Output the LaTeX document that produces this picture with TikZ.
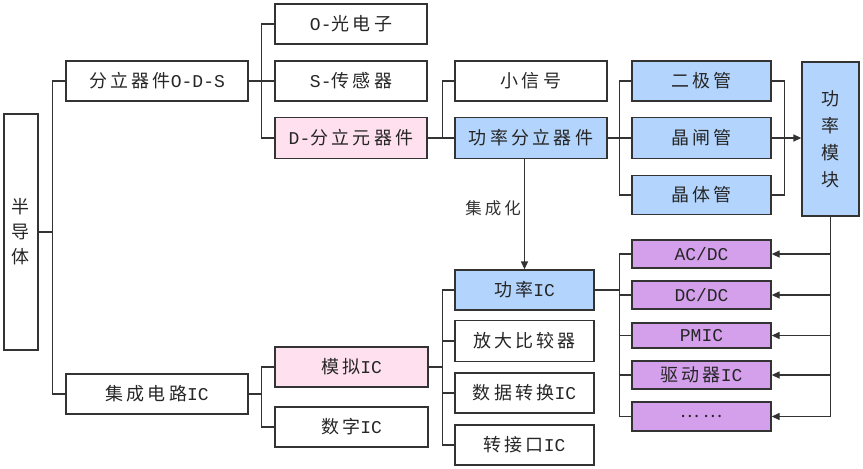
\documentclass[tikz,border=0pt]{standalone}
\usepackage{fontspec}
\setmainfont[LetterSpace=18]{Noto Sans CJK SC}
\newfontfamily\lat{Liberation Mono}
\usetikzlibrary{arrows.meta}
\definecolor{bluef}{HTML}{B3D4FC}
\definecolor{pinkf}{HTML}{FFE0EE}
\definecolor{purpf}{HTML}{D4A0EC}
\definecolor{linec}{HTML}{333333}
\tikzset{
  box/.style={draw=linec, line width=1.3pt, inner sep=0pt, font=\fontsize{18}{22}\selectfont, text=black!85},
  conn/.style={draw=linec, line width=1.3pt},
  arr/.style={conn, -{Triangle[length=8pt,width=7pt]}},
}
\begin{document}
\begin{tikzpicture}[x=1pt,y=-1pt]
\useasboundingbox[fill=white] (0,0) rectangle (863,469);
% level 0
\node[box, minimum width=34pt, minimum height=236pt, align=center, font=\fontsize{18}{25}\selectfont] (ban) at (21,232) {半\\导\\体};
% level 1
\node[box, minimum width=182pt, minimum height=40pt] (fl) at (157,81) {分立器件{\lat O-D-S}};
\node[box, minimum width=182pt, minimum height=40pt] (jc) at (157,394) {集成电路{\lat IC}};
% level 2
\node[box, minimum width=152pt, minimum height=40pt] (o) at (351,24) {{\lat O-}光电子};
\node[box, minimum width=152pt, minimum height=40pt] (s) at (351,81) {{\lat S-}传感器};
\node[box, fill=pinkf, minimum width=152pt, minimum height=41pt] (d) at (351,138) {{\lat D-}分立元器件};
\node[box, fill=pinkf, minimum width=153pt, minimum height=40pt] (mn) at (351.5,367) {模拟{\lat IC}};
\node[box, minimum width=153pt, minimum height=40pt] (sz) at (351.5,427) {数字{\lat IC}};
% level 3
\node[box, minimum width=152pt, minimum height=40pt] (xx) at (531,81) {小信号};
\node[box, fill=bluef, minimum width=152pt, minimum height=41pt] (gl) at (531,138) {功率分立器件};
\node[box, fill=bluef, minimum width=139pt, minimum height=40pt] (gic) at (524.5,290) {功率{\lat IC}};
\node[box, minimum width=139pt, minimum height=41pt] (fd) at (524.5,341) {放大比较器};
\node[box, minimum width=139pt, minimum height=40pt] (sj) at (524.5,393) {数据转换{\lat IC}};
\node[box, minimum width=139pt, minimum height=40pt] (zj) at (524.5,445) {转接口{\lat IC}};
% level 4
\node[box, fill=bluef, minimum width=139pt, minimum height=40pt] (ej) at (701.5,81) {二极管};
\node[box, fill=bluef, minimum width=139pt, minimum height=41pt] (jz) at (701.5,138) {晶闸管};
\node[box, fill=bluef, minimum width=139pt, minimum height=39pt] (jt) at (701.5,195) {晶体管};
\node[box, fill=purpf, minimum width=139pt, minimum height=28pt] (p1) at (701.5,254) {{\lat AC/DC}};
\node[box, fill=purpf, minimum width=139pt, minimum height=28pt] (p2) at (701.5,295) {{\lat DC/DC}};
\node[box, fill=purpf, minimum width=139pt, minimum height=25pt] (p3) at (701.5,335.5) {{\lat PMIC}};
\node[box, fill=purpf, minimum width=139pt, minimum height=28pt] (p4) at (701.5,375) {驱动器{\lat IC}};
\node[box, fill=purpf, minimum width=139pt, minimum height=29pt] (p5) at (701.5,416.5) {……};
% module
\node[box, fill=bluef, minimum width=57pt, minimum height=154pt, align=center, font=\fontsize{18}{27}\selectfont] (mk) at (830.5,139) {功\\率\\模\\块};
% connectors
\draw[conn] (ban.east) -- ++(14,0) |- (fl.west);
\draw[conn] (ban.east) -- ++(14,0) |- (jc.west);
\draw[conn] (fl.east) -- ++(13,0) |- (o.west);
\draw[conn] (fl.east) -- ++(13,0) |- (s.west);
\draw[conn] (fl.east) -- ++(13,0) |- (d.west);
\draw[conn] (jc.east) -- ++(13,0) |- (mn.west);
\draw[conn] (jc.east) -- ++(13,0) |- (sz.west);
\draw[conn] (d.east) -- ++(15,0) |- (xx.west);
\draw[conn] (d.east) -- (gl.west);
\draw[conn] (gl.east) -- ++(12,0) |- (ej.west);
\draw[conn] (gl.east) -- (jz.west);
\draw[conn] (gl.east) -- ++(12,0) |- (jt.west);
\draw[conn] (ej.east) -- ++(13,0) |- (jt.east);
\draw[arr] (jz.east) -- (mk.west |- jz.east);
\draw[conn] (mn.east) -- ++(14,0) |- (gic.west);
\draw[conn] (mn.east) -- ++(14,0) |- (fd.west);
\draw[conn] (mn.east) -- ++(14,0) |- (sj.west);
\draw[conn] (mn.east) -- ++(14,0) |- (zj.west);
\draw[conn] (gic.east) -- ++(25,0) |- (p1.west);
\draw[conn] (gic.east) -- ++(25,0) |- (p2.west);
\draw[conn] (gic.east) -- ++(25,0) |- (p3.west);
\draw[conn] (gic.east) -- ++(25,0) |- (p4.west);
\draw[conn] (gic.east) -- ++(25,0) |- (p5.west);
\draw[arr] (gic.north |- gl.south) -- node[left, font=\fontsize{16.5}{18}\selectfont, text=black!80, pos=0.45, inner sep=3pt] (jch) {集成化} (gic.north);
\draw[conn] (mk.south) -- (mk.south |- p5.east);
\foreach \p in {p1,p2,p3,p4,p5} \draw[arr] (mk.south |- \p.east) -- (\p.east);
\end{tikzpicture}
\end{document}
